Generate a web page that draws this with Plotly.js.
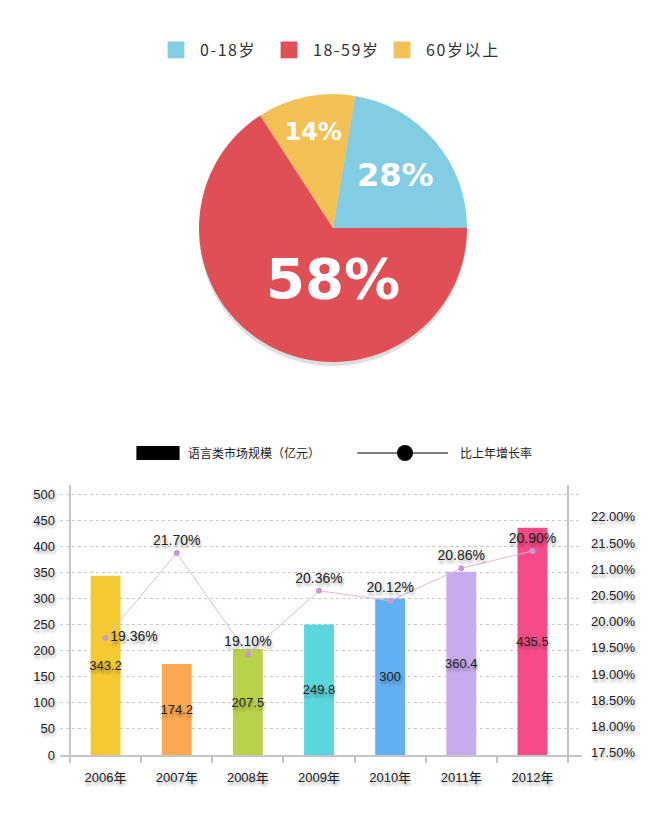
<!DOCTYPE html>
<html>
<head>
<meta charset="utf-8">
<script src="https://cdn.plot.ly/plotly-3.0.1.min.js"></script>
<style>
  body { margin: 0; background: #fff; }
  #chart { width: 653px; height: 837px; }
  /* legend keys drawn larger, like the original */
  #chart .scrollbox { clip-path: none !important; }
  #chart .legendpie { transform: translate(16px, 0) scale(1.4); }
  #chart .legend .legendtext { letter-spacing: 1.6px; }
  #chart .legend2 .legendpoints path { transform: translate(10px, 0) scale(3.6, 1.15); }
  #chart .legend3 .legendlines path { transform: translate(-78px, 0) scale(3.03, 1); }
  #chart .legend3 .legendsymbols path { transform: translate(-15px, 0); }
</style>
</head>
<body>
<div id="chart"></div>
<script>
// Age split (pie) - slice sizes as drawn, labels as printed
const ageGroups = ['0-18岁', '18-59岁', '60岁以上'];
const ageShares = [22.3, 65.9, 11.8];
const ageLabels = ['28%', '58%', '14%'];
const ageColors = ['#82cde4', '#df4f55', '#f4c156'];

// Market size & growth (bars + line)
const years = ['2006年', '2007年', '2008年', '2009年', '2010年', '2011年', '2012年'];
const marketSize = [343.2, 174.2, 203, 249.8, 300, 351, 435.5];      // bar heights as drawn
const marketLabels = ['343.2', '174.2', '207.5', '249.8', '300', '360.4', '435.5'];
const growthRate = [19.69, 21.31, 19.38, 20.59, 20.40, 21.02, 21.35]; // point heights as drawn
const growthLabels = ['19.36%', '21.70%', '19.10%', '20.36%', '20.12%', '20.86%', '20.90%'];
const barColors = ['#f5c932', '#fda94f', '#b8d24a', '#59d6de', '#62b0f2', '#c6acee', '#f54b88'];
const rateTicks = [17.5, 18, 18.5, 19, 19.5, 20, 20.5, 21, 21.5, 22];
const sizeTicks = [0, 50, 100, 150, 200, 250, 300, 350, 400, 450, 500];

const W = 653, H = 837;
const px = v => v / W;
const py = v => (H - v) / H;

const latin = 'Liberation Sans, Arial, Noto Sans CJK SC, sans-serif';
const shadow = '1px 3px 3px rgba(0,0,0,0.35)';

// pie, with a soft grey copy underneath as its shadow
const pieDomain = {x: [px(199), px(467)], y: [py(362), py(94)]};

const pieShadow = {
    type: 'pie',
    labels: ['shadow'],
    values: [1],
    marker: {colors: ['rgba(0,0,0,0.13)']},
    domain: {x: pieDomain.x, y: [pieDomain.y[0] - 4 / H, pieDomain.y[1] - 4 / H]},
    textinfo: 'none',
    hoverinfo: 'skip',
    showlegend: false,
    sort: false
};

const pie = {
    type: 'pie',
    labels: ageGroups,
    values: ageShares,
    text: ageLabels,
    marker: {colors: ageColors},
    domain: pieDomain,
    sort: false,
    direction: 'clockwise',
    rotation: 9.6,
    textinfo: 'text',
    textposition: 'inside',
    insidetextorientation: 'horizontal',
    textfont: {
        color: '#fff',
        size: [32, 56, 24],
        family: 'DejaVu Sans, sans-serif',
        weight: 'bold'
    },
    hoverinfo: 'label+text',
    legend: 'legend'
};

const bars = {
    type: 'bar',
    x: years,
    y: marketSize,
    text: marketLabels,
    textposition: 'inside',
    insidetextanchor: 'middle',
    constraintext: 'none',
    textangle: 0,
    textfont: {color: '#222', size: 13, family: latin, shadow: shadow},
    marker: {color: barColors},
    width: 0.42,
    showlegend: false,
    xaxis: 'x',
    yaxis: 'y'
};

const line = {
    type: 'scatter',
    mode: 'lines+markers+text',
    x: years,
    y: growthRate,
    text: growthLabels,
    textposition: ['middle right', 'top center', 'top center', 'top center', 'top center', 'top center', 'top center'],
    textfont: {color: '#222', size: 14, family: latin, shadow: shadow},
    line: {color: '#dcb8e0', width: 1},
    marker: {color: '#c99bcf', size: 6},
    cliponaxis: false,
    showlegend: false,
    xaxis: 'x',
    yaxis: 'y2'
};

// legend-only entries, drawn black like the original key
const barKey = {
    type: 'bar', x: [null], y: [null],
    name: '语言类市场规模（亿元）',
    marker: {color: '#000'},
    legend: 'legend2', xaxis: 'x', yaxis: 'y'
};
const lineKey = {
    type: 'scatter', mode: 'lines+markers', x: [null], y: [null],
    name: '比上年增长率',
    line: {color: '#555', width: 1.5},
    marker: {color: '#000', size: 16},
    legend: 'legend3', xaxis: 'x', yaxis: 'y2'
};

// plot frame: x-axis runs a bit past the outer category edges like the original
const n = years.length;
const step = (568 - 70) / n;
const xRange = [-0.5 - (70 - 60) / step, n - 0.5 + (582 - 568) / step];

const axisLines = [-0.5, n - 0.5].map(xv => ({
    type: 'line', xref: 'x', yref: 'paper',
    x0: xv, x1: xv, y0: py(762), y1: py(485),
    line: {color: '#c4c4c4', width: 2}
}));

const keyFont = {size: 12, color: '#222', family: 'Noto Sans CJK SC, sans-serif'};

const layout = {
    width: W,
    height: H,
    margin: {l: 0, r: 0, t: 0, b: 0},
    paper_bgcolor: '#fff',
    plot_bgcolor: 'rgba(0,0,0,0)',
    barmode: 'overlay',
    showlegend: true,
    legend: {
        orientation: 'h',
        x: px(160), xanchor: 'left',
        y: py(50), yanchor: 'middle',
        entrywidth: 68,
        font: {size: 16, color: '#333', family: 'Noto Sans CJK SC, sans-serif'},
        itemclick: false
    },
    legend2: {
        orientation: 'h',
        x: px(148), xanchor: 'left',
        y: py(453), yanchor: 'middle',
        font: keyFont,
        itemclick: false
    },
    legend3: {
        orientation: 'h',
        x: px(420), xanchor: 'left',
        y: py(453), yanchor: 'middle',
        font: keyFont,
        itemclick: false
    },
    xaxis: {
        domain: [px(60), px(582)],
        range: xRange,
        type: 'category',
        showline: true,
        linecolor: '#c4c4c4',
        linewidth: 2,
        ticks: 'outside',
        tickson: 'boundaries',
        ticklen: 6,
        tickcolor: '#c4c4c4',
        tickwidth: 2,
        showgrid: false,
        tickfont: {size: 13, color: '#222', family: latin, shadow: shadow},
        ticklabelstandoff: 9
    },
    yaxis: {
        domain: [py(755), py(485)],
        range: [0, (755 - 485) / 0.522],
        tickvals: sizeTicks,
        showgrid: true,
        gridcolor: '#c8c8c8',
        griddash: 'dot',
        gridwidth: 1,
        zeroline: false,
        showline: false,
        tickfont: {size: 13, color: '#222', family: latin, shadow: shadow},
        ticklabelstandoff: 4
    },
    yaxis2: {
        overlaying: 'y',
        side: 'right',
        range: [17.5 - 2.3 / 52.4, 17.5 + (752.7 - 485) / 52.4],
        tickvals: rateTicks,
        ticktext: rateTicks.map(v => v.toFixed(2) + '%'),
        showgrid: false,
        zeroline: false,
        showline: false,
        tickfont: {size: 13, color: '#222', family: latin, shadow: shadow},
        ticklabelstandoff: 8
    },
    shapes: axisLines
};

Plotly.newPlot('chart', [pieShadow, pie, bars, line, barKey, lineKey], layout, {displayModeBar: false, staticPlot: true});
</script>
</body>
</html>
